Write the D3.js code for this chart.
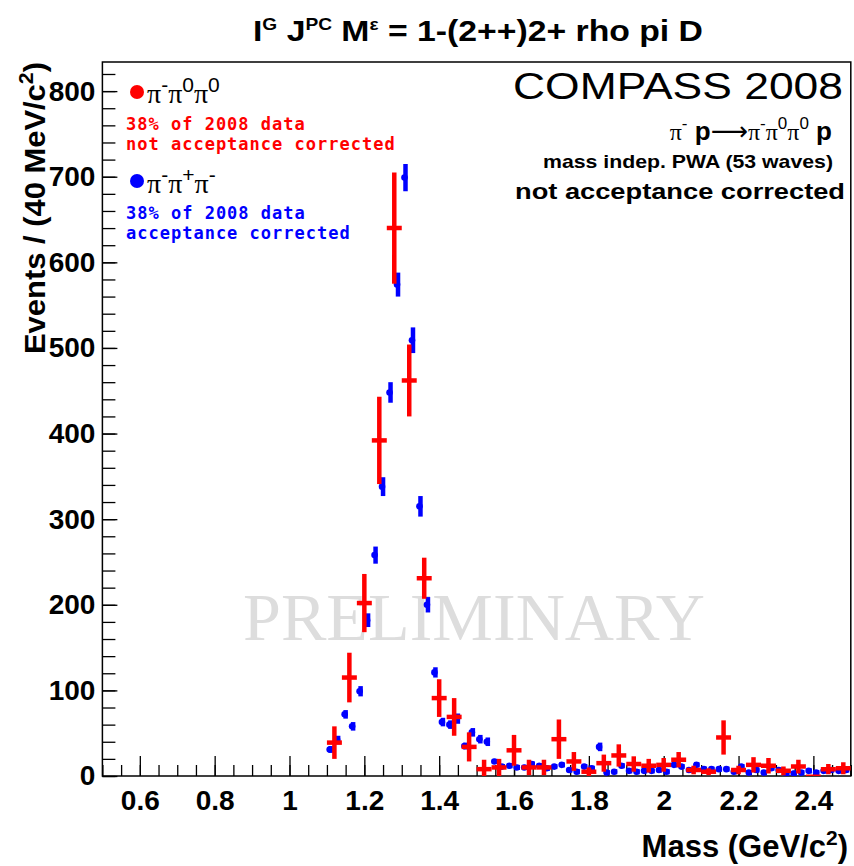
<!DOCTYPE html>
<html>
<head>
<meta charset="utf-8">
<script src="https://cdn.jsdelivr.net/npm/d3@7/dist/d3.min.js"></script>
<style>
  body { margin: 0; background: #fff; }
</style>
</head>
<body>
<div id="chart"></div>
<script>
"use strict"

const WIDTH = 854;
const HEIGHT = 866;
const PLOT = { left: 102.4, right: 850.8, top: 62, bottom: 776 };
const SANS = "'Liberation Sans', Arial, Helvetica, sans-serif";
const SERIF = "'Liberation Serif', 'Times New Roman', serif";
const MONO = "'DejaVu Sans Mono', monospace";

// pi- pi0 pi0 (red), 40 MeV bins, not acceptance corrected
const redMass = [1.12, 1.16, 1.20, 1.24, 1.28, 1.32, 1.36, 1.40, 1.44, 1.48,
	1.52, 1.56, 1.60, 1.64, 1.68, 1.72, 1.76, 1.80, 1.84, 1.88,
	1.92, 1.96, 2.00, 2.04, 2.08, 2.12, 2.16, 2.20, 2.24, 2.28,
	2.32, 2.36, 2.40, 2.44, 2.48];
const redEvents = [39, 115, 202, 392, 640, 462, 231, 91, 69, 34,
	8, 10, 30, 10, 10, 43, 17, 5, 15, 24,
	14, 12, 13, 19, 7, 5, 45, 7, 13, 12,
	6, 11, -1, 8, 9];
const redErr = [19, 29, 34, 51, 65, 42, 24, 22, 22, 17,
	11, 10, 18, 9, 9, 23, 11, 5, 10, 13,
	9, 8, 8, 9, 5, 4, 20, 5, 9, 9,
	5, 8, 2, 6, 7];

// pi- pi+ pi- (blue), acceptance corrected
const blueMass = [1.11, 1.13, 1.15, 1.17, 1.19, 1.21, 1.23, 1.25, 1.27, 1.29,
	1.31, 1.33, 1.35, 1.37, 1.39, 1.41, 1.43, 1.45, 1.47, 1.49,
	1.51, 1.53, 1.55, 1.57, 1.59, 1.61, 1.63, 1.65, 1.67, 1.69,
	1.71, 1.73, 1.75, 1.77, 1.79, 1.81, 1.83, 1.85, 1.87, 1.89,
	1.91, 1.93, 1.95, 1.97, 1.99, 2.01, 2.03, 2.05, 2.07, 2.09,
	2.11, 2.13, 2.15, 2.17, 2.19, 2.21, 2.23, 2.25, 2.27, 2.29,
	2.31, 2.33, 2.35, 2.37, 2.39, 2.41, 2.43, 2.45, 2.47, 2.49];
const blueEvents = [31, 42, 72, 58, 99, 182, 258, 338, 448, 574,
	699, 509, 315, 200, 121, 63, 60, 67, 35, 51,
	43, 40, 17, 11, 12, 10, 10, 14, 12, 9,
	11, 13, 7, 5, 11, 9, 34, 4, 5, 12,
	6, 5, 6, 6, 7, 5, 13, 11, 7, 13,
	8, 8, 8, 8, 5, 11, 4, 7, 4, 9,
	7, 3, 3, 4, 6, 4, 6, 7, 6, 7];
const blueErr = [4, 5, 5, 5, 6, 8, 10, 11, 12, 14,
	16, 15, 12, 9, 6, 5, 5, 6, 4, 5,
	5, 5, 3, 3, 3, 3, 3, 3, 3, 3,
	3, 3, 3, 3, 3, 3, 5, 3, 3, 3,
	3, 3, 3, 3, 3, 3, 3, 3, 3, 3,
	3, 3, 3, 3, 3, 3, 3, 3, 3, 3,
	3, 3, 3, 3, 3, 3, 3, 3, 3, 3];

const xTicks = [0.6, 0.8, 1, 1.2, 1.4, 1.6, 1.8, 2, 2.2, 2.4];
const xTickLabels = ["0.6", "0.8", "1", "1.2", "1.4", "1.6", "1.8", "2", "2.2", "2.4"];
const yTicks = [0, 100, 200, 300, 400, 500, 600, 700, 800];
const BIN_HALF = 0.02;

const svg = d3.select("#chart").append("svg")
	.attr("width", WIDTH)
	.attr("height", HEIGHT)
	.style("display", "block");

const x = d3.scaleLinear().domain([0.5, 2.5]).range([PLOT.left, PLOT.right]);
const y = d3.scaleLinear().domain([0, 834]).range([PLOT.bottom, PLOT.top]);

// rich text: pieces [{t, sup, size, font, weight}], superscripts raised by rise
function rich(sel, parts, rise)
{
	let up = false;
	parts.forEach(function(p) {
		const ts = sel.append("tspan").text(p.t);
		if (p.size) ts.attr("font-size", p.size);
		if (p.font) ts.attr("font-family", p.font);
		if (p.weight) ts.attr("font-weight", p.weight);
		if (p.sup && !up) { ts.attr("dy", -rise); up = true; }
		else if (!p.sup && up) { ts.attr("dy", rise); up = false; }
	});
	return sel;
}

// watermark
svg.append("text")
	.attr("x", 243).attr("y", 640)
	.attr("font-family", SERIF)
	.attr("font-size", 68)
	.attr("textLength", 462)
	.attr("lengthAdjust", "spacingAndGlyphs")
	.attr("fill", "#dddddd")
	.text("PRELIMINARY");

// axes
const xAxisMinor = d3.axisBottom(x).ticks(40).tickSize(-11).tickFormat("");
const xAxisMajor = d3.axisBottom(x).tickValues(xTicks).tickSize(-20)
	.tickPadding(14)
	.tickFormat(function(d, i) { return xTickLabels[i]; });
const yAxisMinor = d3.axisLeft(y).ticks(40).tickSize(-13).tickFormat("");
const yAxisMajor = d3.axisLeft(y).tickValues(yTicks).tickSize(-15).tickPadding(7);

[xAxisMinor, xAxisMajor].forEach(function(ax) {
	svg.append("g").attr("transform", "translate(0," + PLOT.bottom + ")").call(ax);
});
[yAxisMinor, yAxisMajor].forEach(function(ax) {
	svg.append("g").attr("transform", "translate(" + PLOT.left + ",0)").call(ax);
});
svg.selectAll(".domain").remove();
svg.selectAll(".tick line").attr("stroke", "#000").attr("stroke-width", 1.3);
svg.selectAll(".tick text")
	.attr("font-family", SANS)
	.attr("font-weight", "bold")
	.attr("font-size", 28)
	.attr("fill", "#000");

// frame
svg.append("rect")
	.attr("x", PLOT.left).attr("y", PLOT.top)
	.attr("width", PLOT.right - PLOT.left)
	.attr("height", PLOT.bottom - PLOT.top)
	.attr("fill", "none")
	.attr("stroke", "#000")
	.attr("stroke-width", 1.5);

svg.append("clipPath").attr("id", "plotclip")
	.append("rect")
	.attr("x", PLOT.left).attr("y", PLOT.top)
	.attr("width", PLOT.right - PLOT.left)
	.attr("height", PLOT.bottom - PLOT.top);

const data = svg.append("g").attr("clip-path", "url(#plotclip)");

// blue points
const blue = data.selectAll(".blue")
	.data(blueMass.map(function(m, i) { return { m: m, v: blueEvents[i], e: blueErr[i] }; }))
	.enter().append("g").attr("class", "blue");
blue.append("line")
	.attr("x1", function(d) { return x(d.m); })
	.attr("x2", function(d) { return x(d.m); })
	.attr("y1", function(d) { return y(d.v + d.e); })
	.attr("y2", function(d) { return y(d.v - d.e); })
	.attr("stroke", "#0000ff")
	.attr("stroke-width", 4.5);
blue.append("circle")
	.attr("cx", function(d) { return x(d.m) - 1; })
	.attr("cy", function(d) { return y(d.v); })
	.attr("r", 3.3)
	.attr("fill", "#0000ff");

// red points
const red = data.selectAll(".red")
	.data(redMass.map(function(m, i) { return { m: m, v: redEvents[i], e: redErr[i] }; }))
	.enter().append("g").attr("class", "red");
red.append("line")
	.attr("x1", function(d) { return x(d.m); })
	.attr("x2", function(d) { return x(d.m); })
	.attr("y1", function(d) { return y(d.v + d.e); })
	.attr("y2", function(d) { return y(d.v - d.e); })
	.attr("stroke", "#ff0000")
	.attr("stroke-width", 4.5);
red.append("line")
	.attr("x1", function(d) { return x(d.m - BIN_HALF); })
	.attr("x2", function(d) { return x(d.m + BIN_HALF); })
	.attr("y1", function(d) { return y(d.v); })
	.attr("y2", function(d) { return y(d.v); })
	.attr("stroke", "#ff0000")
	.attr("stroke-width", 4.5);

// title
rich(svg.append("text")
	.attr("x", 478).attr("y", 41)
	.attr("text-anchor", "middle")
	.attr("font-family", SANS)
	.attr("font-weight", "bold")
	.attr("font-size", 30)
	.attr("textLength", 450)
	.attr("lengthAdjust", "spacingAndGlyphs"), [
	{ t: "I" }, { t: "G", sup: true, size: 17 },
	{ t: " J" }, { t: "PC", sup: true, size: 17 },
	{ t: " M" }, { t: "\u03b5", sup: true, size: 17 },
	{ t: " = 1-(2++)2+ rho pi D" }
], 11);

// axis titles
rich(svg.append("text")
	.attr("transform", "translate(45," + PLOT.top + ") rotate(-90)")
	.attr("text-anchor", "end")
	.attr("font-family", SANS)
	.attr("font-weight", "bold")
	.attr("font-size", 29)
	.attr("textLength", 292)
	.attr("lengthAdjust", "spacingAndGlyphs"), [
	{ t: "Events / (40 MeV/c" }, { t: "2", sup: true, size: 20 }, { t: ")" }
], 12);

rich(svg.append("text")
	.attr("x", 848).attr("y", 857)
	.attr("text-anchor", "end")
	.attr("font-family", SANS)
	.attr("font-weight", "bold")
	.attr("font-size", 31), [
	{ t: "Mass (GeV/c" }, { t: "2", sup: true, size: 21 }, { t: ")" }
], 12);

// legend
const legend = [
	{ color: "#ff0000", cy: 92, base: 103, sups: ["-", "0", "0"], lines: ["38% of 2008 data", "not acceptance corrected"], ly: 130 },
	{ color: "#0000ff", cy: 181, base: 193, sups: ["-", "+", "-"], lines: ["38% of 2008 data", "acceptance corrected"], ly: 219 }
];
legend.forEach(function(L) {
	svg.append("circle").attr("cx", 137).attr("cy", L.cy).attr("r", 7).attr("fill", L.color);
	const parts = [];
	L.sups.forEach(function(s) {
		parts.push({ t: "\u03c0" });
		parts.push({ t: s, sup: true, size: 21, font: SANS });
	});
	rich(svg.append("text")
		.attr("x", 147).attr("y", L.base)
		.attr("font-family", SERIF)
		.attr("font-size", 28)
		.attr("fill", "#000"), parts, 11);
	L.lines.forEach(function(s, i) {
		svg.append("text")
			.attr("x", 126).attr("y", L.ly + i * 20)
			.attr("font-family", MONO)
			.attr("font-weight", "bold")
			.attr("font-size", 17)
			.attr("letter-spacing", 1)
			.attr("fill", L.color)
			.text(s);
	});
});

// experiment labels
svg.append("text")
	.attr("x", 843).attr("y", 99)
	.attr("text-anchor", "end")
	.attr("font-family", SANS)
	.attr("font-size", 36)
	.attr("textLength", 330)
	.attr("lengthAdjust", "spacingAndGlyphs")
	.text("COMPASS 2008");

rich(svg.append("text")
	.attr("x", 832).attr("y", 140)
	.attr("text-anchor", "end")
	.attr("font-family", SERIF)
	.attr("font-size", 24), [
	{ t: "\u03c0" }, { t: "-", sup: true, size: 17, font: SANS },
	{ t: " p", font: SANS, weight: "bold", size: 26 },
	{ t: "\u27f6", font: "'DejaVu Sans', sans-serif", size: 26 },
	{ t: "\u03c0" }, { t: "-", sup: true, size: 17, font: SANS },
	{ t: "\u03c0" }, { t: "0", sup: true, size: 17, font: SANS },
	{ t: "\u03c0" }, { t: "0", sup: true, size: 17, font: SANS },
	{ t: " p", font: SANS, weight: "bold", size: 26 }
], 11);

svg.append("text")
	.attr("x", 833).attr("y", 168)
	.attr("text-anchor", "end")
	.attr("font-family", SANS)
	.attr("font-weight", "bold")
	.attr("font-size", 19)
	.attr("textLength", 290)
	.attr("lengthAdjust", "spacingAndGlyphs")
	.text("mass indep. PWA (53 waves)");

svg.append("text")
	.attr("x", 845).attr("y", 199)
	.attr("text-anchor", "end")
	.attr("font-family", SANS)
	.attr("font-weight", "bold")
	.attr("font-size", 22)
	.attr("textLength", 330)
	.attr("lengthAdjust", "spacingAndGlyphs")
	.text("not acceptance corrected");
</script>
</body>
</html>
